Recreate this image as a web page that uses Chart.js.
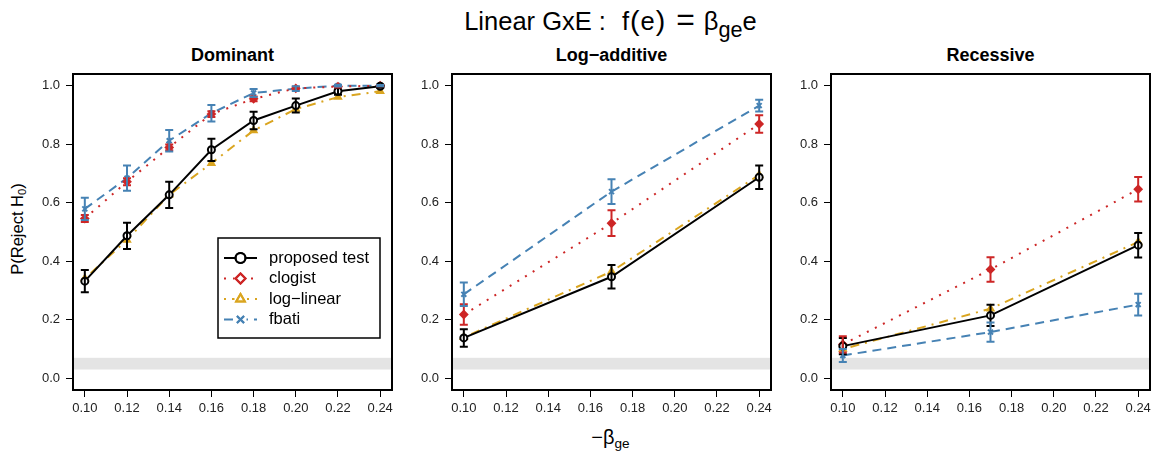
<!DOCTYPE html>
<html>
<head>
<meta charset="utf-8">
<script src="https://cdn.jsdelivr.net/npm/chart.js@4/dist/chart.umd.min.js"></script>
<style>
  body { margin: 0; background: #fff; font-family: 'Liberation Sans', Arial, sans-serif; color: #000; }
  #wrap { position: relative; width: 1157px; height: 459px; overflow: hidden; }
  canvas { position: absolute; }
  .main-title { position: absolute; left: 0; width: 1221px; top: 4px; text-align: center; font-size: 25.5px; white-space: nowrap; }
  .main-title .par { font-size: 1.12em; margin: 0 1px; }
  .main-title .eq { font-size: 1.25em; line-height: 1; margin-left: 10px; }
  .main-title sub { font-size: 0.85em; }
  .panel-title { position: absolute; top: 45px; font-size: 18px; font-weight: bold; text-align: center; }
  .ylab { position: absolute; left: 18px; top: 229px; transform: translate(-50%, -50%) rotate(-90deg); font-size: 16.5px; white-space: nowrap; }
  .xlab { position: absolute; left: 0; width: 1221px; top: 426px; text-align: center; font-size: 20px; }
  sub { font-size: 0.68em; vertical-align: -0.3em; }
</style>
</head>
<body>
<div id="wrap">
  <div class="main-title">Linear GxE :<span style="margin-left:16px">f</span><span class="par">(</span>e<span class="par">)</span><span class="eq">=</span><span style="margin-left:9px">β<sub>ge</sub>e</span></div>
  <div class="ylab">P(Reject H<sub>0</sub>)</div>
  <div class="xlab">−β<sub>ge</sub></div>
</div>
<script>
// axis ticks shared by all three panels
const xTicks = [0.10, 0.12, 0.14, 0.16, 0.18, 0.20, 0.22, 0.24]
const yTicks = [0.0, 0.2, 0.4, 0.6, 0.8, 1.0]

const seriesNames = ['proposed test', 'clogist', 'log−linear', 'fbati']

// Dominant
const domBeta        = [0.10, 0.12, 0.14, 0.16, 0.18, 0.20, 0.22, 0.24]
const domProposed    = [0.332, 0.487, 0.627, 0.781, 0.881, 0.932, 0.981, 0.998]
const domProposedErr = [0.038, 0.045, 0.045, 0.038, 0.030, 0.024, 0.012, 0.005]
const domClogist     = [0.546, 0.672, 0.789, 0.903, 0.955, 0.991, 0.997, 1.000]
const domClogistErr  = [0.012, 0.012, 0.010, 0.010, 0.008, 0.005, 0.003, 0.002]
const domLoglin      = [0.341, 0.473, 0.627, 0.735, 0.847, 0.920, 0.961, 0.981]
const domFbati       = [0.579, 0.684, 0.812, 0.906, 0.975, 0.990, 1.000, 1.000]
const domFbatiErr    = [0.038, 0.043, 0.037, 0.028, 0.014, 0.008, 0.003, 0.002]

// Log-additive
const laBeta        = [0.10, 0.17, 0.24]
const laProposed    = [0.138, 0.347, 0.687]
const laProposedErr = [0.030, 0.040, 0.040]
const laClogist     = [0.218, 0.530, 0.869]
const laClogistErr  = [0.035, 0.044, 0.030]
const laLoglin      = [0.140, 0.365, 0.695]
const laFbati       = [0.287, 0.638, 0.932]
const laFbatiErr    = [0.040, 0.042, 0.020]

// Recessive
const reBeta        = [0.10, 0.17, 0.24]
const reProposed    = [0.110, 0.215, 0.455]
const reProposedErr = [0.028, 0.036, 0.042]
const reClogist     = [0.116, 0.372, 0.646]
const reClogistErr  = [0.028, 0.042, 0.042]
const reLoglin      = [0.100, 0.238, 0.466]
const reFbati       = [0.078, 0.158, 0.252]
const reFbatiErr    = [0.022, 0.033, 0.037]

// nominal level band
const bandLo = 0.03
const bandHi = 0.07

const styles = [
  { color: '#000000', dash: [],            point: 'circle' },
  { color: '#cd2626', dash: [2, 7],        point: 'rectRot' },
  { color: '#daa520', dash: [2, 6, 9, 6],  point: 'triangle' },
  { color: '#4682b4', dash: [9, 6],        point: 'crossRot' }
]

const panels = [
  { title: 'Dominant',     beta: domBeta, values: [domProposed, domClogist, domLoglin, domFbati],
    errs: [domProposedErr, domClogistErr, null, domFbatiErr], legend: true, left: 73 },
  { title: 'Log−additive', beta: laBeta,  values: [laProposed, laClogist, laLoglin, laFbati],
    errs: [laProposedErr, laClogistErr, null, laFbatiErr], legend: false, left: 452 },
  { title: 'Recessive',    beta: reBeta,  values: [reProposed, reClogist, reLoglin, reFbati],
    errs: [reProposedErr, reClogistErr, null, reFbatiErr], legend: false, left: 831 }
]

const BOX_W = 319, BOX_H = 317, BOX_TOP = 73
const PAD_L = 55, PAD_T = 5, PAD_R = 25, PAD_B = 40

Chart.defaults.font.family = "'Liberation Sans', Arial, sans-serif"
Chart.defaults.color = '#222'

// gray band under the data, error bars, frame box
const decorPlugin = {
  id: 'decor',
  beforeDatasetsDraw(chart) {
    const { ctx, chartArea: ca, scales: { y } } = chart
    ctx.save()
    ctx.fillStyle = '#e4e4e4'
    const top = y.getPixelForValue(bandHi), bot = y.getPixelForValue(bandLo)
    ctx.fillRect(ca.left, top, ca.right - ca.left, bot - top)
    ctx.restore()
  },
  afterDatasetsDraw(chart) {
    const { ctx, scales: { x, y } } = chart
    ctx.save()
    chart.data.datasets.forEach(ds => {
      if (!ds.errs) return
      ctx.strokeStyle = ds.borderColor
      ctx.lineWidth = 2
      ctx.setLineDash([])
      ds.data.forEach((p, i) => {
        const px = x.getPixelForValue(p.x)
        const hi = y.getPixelForValue(Math.min(p.y + ds.errs[i], 1.04))
        const lo = y.getPixelForValue(p.y - ds.errs[i])
        ctx.beginPath()
        ctx.moveTo(px, hi); ctx.lineTo(px, lo)
        ctx.moveTo(px - 4, hi); ctx.lineTo(px + 4, hi)
        ctx.moveTo(px - 4, lo); ctx.lineTo(px + 4, lo)
        ctx.stroke()
      })
    })
    ctx.restore()
  },
  afterDraw(chart) {
    const { ctx, chartArea: ca } = chart
    ctx.save()
    ctx.strokeStyle = '#000'
    ctx.lineWidth = 2
    ctx.strokeRect(ca.left, ca.top, ca.right - ca.left, ca.bottom - ca.top)
    ctx.restore()
  }
}

// boxed legend in the lower right of the first panel
const legendPlugin = {
  id: 'boxLegend',
  afterDraw(chart, args, opts) {
    if (!opts.show) return
    const { ctx, chartArea: ca } = chart
    const w = 162, h = 100
    const lx = ca.right - 12 - w, ly = ca.bottom - 52 - h
    ctx.save()
    ctx.fillStyle = '#fff'
    ctx.fillRect(lx, ly, w, h)
    ctx.strokeStyle = '#000'
    ctx.lineWidth = 1.5
    ctx.strokeRect(lx, ly, w, h)
    ctx.font = "16.5px 'Liberation Sans', Arial, sans-serif"
    ctx.textBaseline = 'middle'
    chart.data.datasets.forEach((ds, i) => {
      const cy = ly + 20 + i * 20.5
      const x0 = lx + 6, x1 = lx + 39, cx = (x0 + x1) / 2
      ctx.strokeStyle = ds.borderColor
      ctx.lineWidth = 2
      ctx.setLineDash(ds.borderDash)
      ctx.beginPath()
      ctx.moveTo(x0, cy); ctx.lineTo(x1, cy)
      ctx.stroke()
      ctx.setLineDash([])
      ctx.fillStyle = '#fff'
      ctx.beginPath()
      ctx.rect(cx - 6, cy - 6, 12, 12)
      if (ds.pointStyle !== 'circle') ctx.fill()
      Chart.helpers.drawPoint(ctx, { pointStyle: ds.pointStyle, radius: 5, borderWidth: 2 }, cx, cy)
      ctx.lineWidth = 2
      ctx.strokeStyle = ds.borderColor
      ctx.stroke()
      ctx.fillStyle = '#000'
      ctx.fillText(ds.label, lx + 51, cy)
    })
    ctx.restore()
  }
}

const wrap = document.getElementById('wrap')

panels.forEach(p => {
  const title = document.createElement('div')
  title.className = 'panel-title'
  title.style.left = p.left + 'px'
  title.style.width = BOX_W + 'px'
  title.textContent = p.title
  wrap.appendChild(title)

  const canvas = document.createElement('canvas')
  canvas.width = PAD_L + BOX_W + PAD_R
  canvas.height = PAD_T + BOX_H + PAD_B
  canvas.style.left = (p.left - PAD_L) + 'px'
  canvas.style.top = (BOX_TOP - PAD_T) + 'px'
  wrap.appendChild(canvas)

  const datasets = p.values.map((vals, i) => ({
    label: seriesNames[i],
    data: vals.map((v, j) => ({ x: p.beta[j], y: v })),
    errs: p.errs[i],
    borderColor: styles[i].color,
    borderDash: styles[i].dash,
    borderWidth: 2,
    pointStyle: styles[i].point,
    pointRadius: 3.5,
    pointBorderWidth: 2,
    pointBorderColor: styles[i].color,
    pointBackgroundColor: i === 0 ? '#fff' : styles[i].color,
    tension: 0,
    fill: false
  }))

  new Chart(canvas.getContext('2d'), {
    type: 'line',
    data: { datasets },
    plugins: [decorPlugin, legendPlugin],
    options: {
      responsive: false,
      animation: false,
      layout: { padding: { left: 0, top: PAD_T, right: PAD_R, bottom: 0 } },
      plugins: {
        legend: { display: false },
        tooltip: { enabled: false },
        boxLegend: { show: p.legend }
      },
      scales: {
        x: {
          type: 'linear',
          min: 0.1 - 0.0056,
          max: 0.24 + 0.0056,
          afterBuildTicks: s => { s.ticks = xTicks.map(v => ({ value: v })) },
          afterFit: s => { s.height = PAD_B; s.paddingLeft = 0; s.paddingRight = 0 },
          grid: { drawOnChartArea: false, drawTicks: true, tickLength: 7, color: '#000', lineWidth: 1 },
          border: { display: false },
          ticks: { callback: v => v.toFixed(2), font: { size: 13 }, padding: 4, maxRotation: 0, color: '#222' }
        },
        y: {
          type: 'linear',
          min: -0.04,
          max: 1.04,
          afterBuildTicks: s => { s.ticks = yTicks.map(v => ({ value: v })) },
          afterFit: s => { s.width = PAD_L; s.paddingTop = 0; s.paddingBottom = 0 },
          grid: { drawOnChartArea: false, drawTicks: true, tickLength: 7, color: '#000', lineWidth: 1 },
          border: { display: false },
          ticks: { callback: v => v.toFixed(1), font: { size: 13 }, padding: 6, color: '#222' }
        }
      }
    }
  })
})
</script>
</body>
</html>
